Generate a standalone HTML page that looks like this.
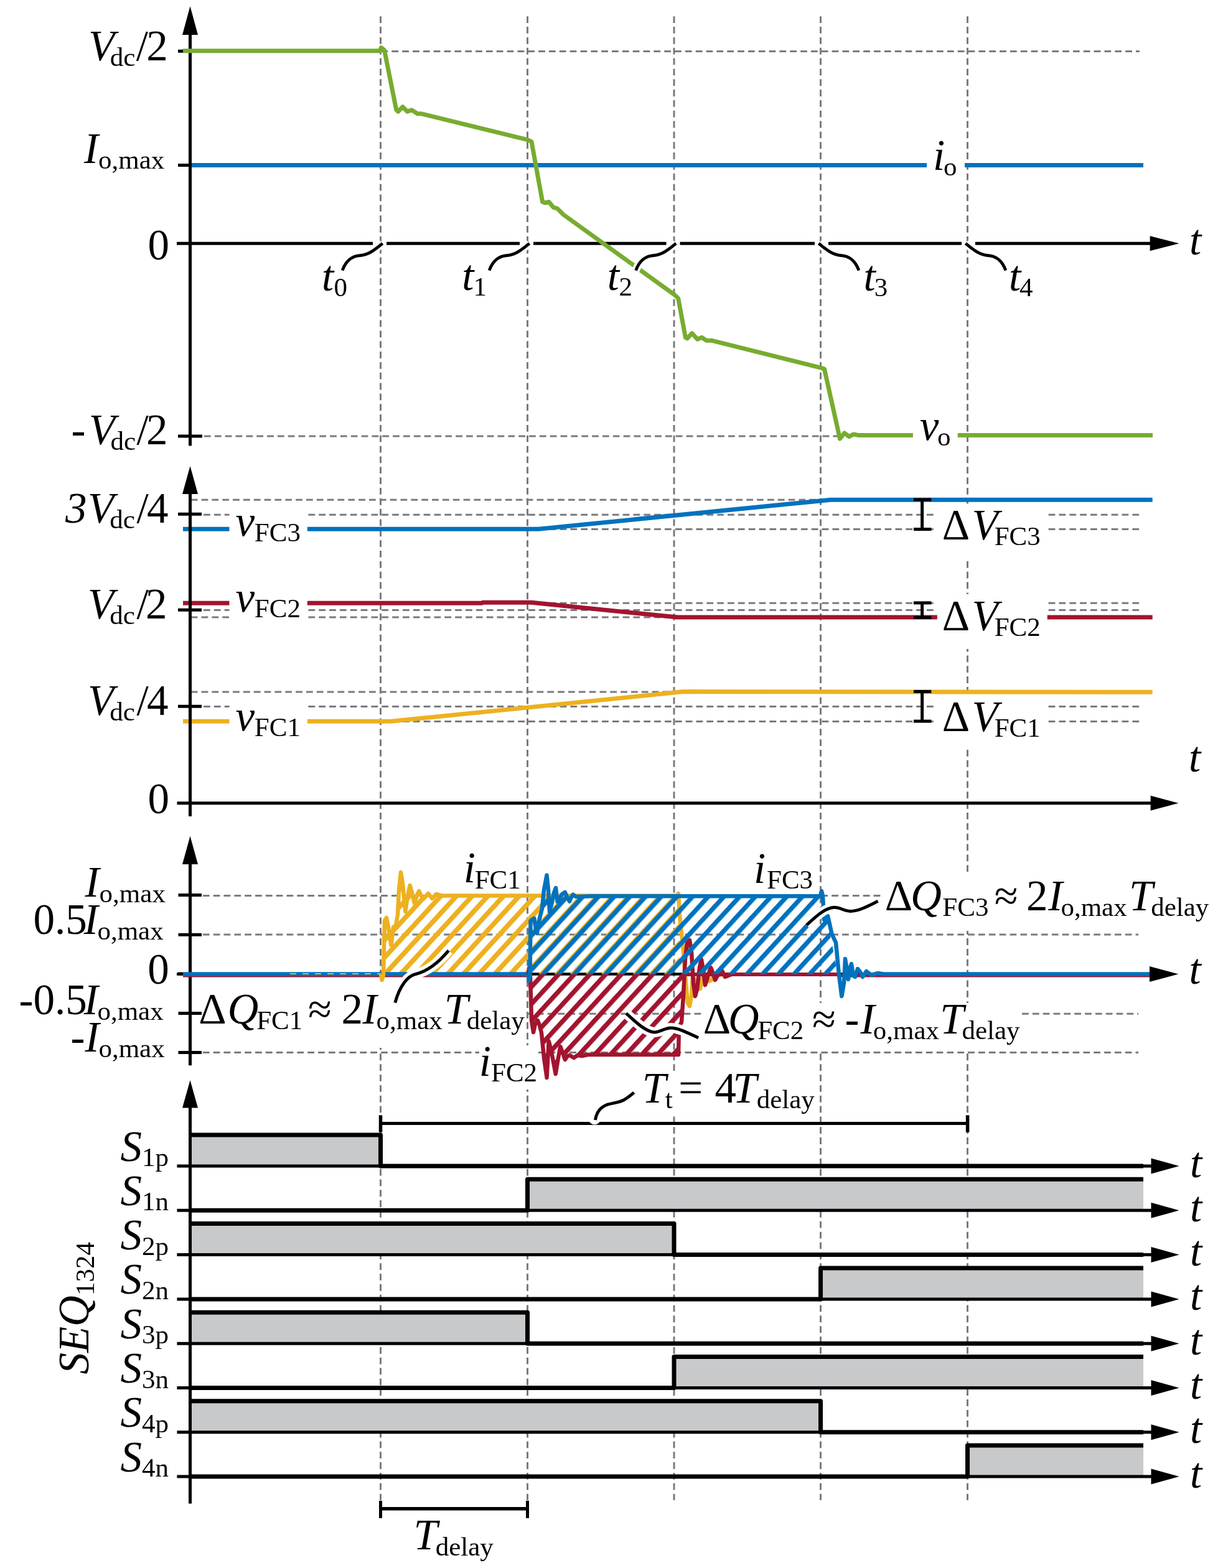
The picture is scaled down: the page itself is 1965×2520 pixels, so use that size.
<!DOCTYPE html>
<html><head><meta charset="utf-8"><title>Switching sequence</title><style>html,body{margin:0;padding:0;background:#fff;overflow:hidden;}svg{display:block;}</style></head><body>
<svg width="1965" height="2520" viewBox="0 0 1965 2520" font-family="'Liberation Serif', 'Times New Roman', serif" fill="#000">
<defs><pattern id="hy" patternUnits="userSpaceOnUse" width="18.579" height="40" patternTransform="rotate(42.50) translate(4.80,0)"><rect x="0" y="0" width="7.80" height="40" fill="#EDB120"/></pattern><pattern id="hr" patternUnits="userSpaceOnUse" width="18.579" height="40" patternTransform="rotate(42.50) translate(6.57,0)"><rect x="0" y="0" width="7.50" height="40" fill="#A2142F"/></pattern><pattern id="hb" patternUnits="userSpaceOnUse" width="18.579" height="40" patternTransform="rotate(42.50) translate(6.62,0)"><rect x="0" y="0" width="7.40" height="40" fill="#0072BD"/></pattern></defs>
<rect x="0" y="0" width="1965" height="2520" fill="#fff"/>
<line x1="611.5" y1="26.2" x2="611.5" y2="2411.0" stroke="#7a7b80" stroke-width="3.0" stroke-dasharray="10.8 6.04"/>
<line x1="847.5" y1="26.2" x2="847.5" y2="2411.0" stroke="#7a7b80" stroke-width="3.0" stroke-dasharray="10.8 6.04"/>
<line x1="1083.0" y1="26.2" x2="1083.0" y2="2411.0" stroke="#7a7b80" stroke-width="3.0" stroke-dasharray="10.8 6.04"/>
<line x1="1318.5" y1="26.2" x2="1318.5" y2="2411.0" stroke="#7a7b80" stroke-width="3.0" stroke-dasharray="10.8 6.04"/>
<line x1="1554.5" y1="26.2" x2="1554.5" y2="2411.0" stroke="#7a7b80" stroke-width="3.0" stroke-dasharray="10.8 6.04"/>
<line x1="612.5" y1="82.5" x2="1831.0" y2="82.5" stroke="#7a7b80" stroke-width="3.0" stroke-dasharray="10.8 6.04"/>
<line x1="328.0" y1="701.1" x2="1350.0" y2="701.1" stroke="#7a7b80" stroke-width="3.0" stroke-dasharray="10.8 6.04"/>
<line x1="305.0" y1="265.5" x2="1489.0" y2="265.5" stroke="#0072BD" stroke-width="7.0" />
<line x1="1550.0" y1="265.5" x2="1837.0" y2="265.5" stroke="#0072BD" stroke-width="7.0" />
<line x1="305.5" y1="52.0" x2="305.5" y2="716.4" stroke="#000" stroke-width="5.0" />
<polygon points="305.5,10.0 293.0,56.0 318.0,56.0" fill="#000"/>
<line x1="284.0" y1="391.2" x2="599.0" y2="391.2" stroke="#000" stroke-width="5.0" />
<line x1="621.0" y1="391.2" x2="835.0" y2="391.2" stroke="#000" stroke-width="5.0" />
<line x1="857.0" y1="391.2" x2="1070.5" y2="391.2" stroke="#000" stroke-width="5.0" />
<line x1="1092.5" y1="391.2" x2="1309.0" y2="391.2" stroke="#000" stroke-width="5.0" />
<line x1="1331.0" y1="391.2" x2="1545.0" y2="391.2" stroke="#000" stroke-width="5.0" />
<line x1="1567.0" y1="391.2" x2="1850.0" y2="391.2" stroke="#000" stroke-width="5.0" />
<polygon points="1894.5,391.2 1847.6,379.2 1847.6,403.2" fill="#000"/>
<line x1="286.0" y1="82.2" x2="305.5" y2="82.2" stroke="#000" stroke-width="5.0" />
<line x1="286.0" y1="265.5" x2="305.5" y2="265.5" stroke="#000" stroke-width="5.0" />
<line x1="286.0" y1="701.1" x2="325.0" y2="701.1" stroke="#000" stroke-width="5.0" />
<polyline points="294.0,81.7 610.5,81.7 612.4,76.5 617.6,80.8 636.7,176.2 639.6,179.2 647.0,171.8 654.3,179.2 661.7,176.8 670.5,182.7 676.3,182.7 847.5,224.7 854.0,227.6 871.6,324.5 876.0,326.0 881.9,324.5 889.2,333.3 895.0,334.8 905.3,345.0 1083.2,473.3 1089.6,479.2 1101.4,542.3 1104.3,543.8 1111.7,535.6 1120.5,545.2 1127.8,542.3 1135.1,547.3 1144.0,547.3 1318.0,590.8 1324.5,593.1 1349.5,705.2 1356.8,695.9 1364.2,701.7 1371.5,697.9 1378.8,699.4 1466.9,699.4" fill="none" stroke="#77AC30" stroke-width="7.0" stroke-linejoin="round" />
<line x1="1538.8" y1="699.4" x2="1852.0" y2="699.4" stroke="#77AC30" stroke-width="7.0" />
<path d="M614.7,391.2 C601.5,402.2 591.5,409.7 579.5,410.5 C566.5,411.2 556.5,417.2 550.1,434.6" fill="none" stroke="#fff" stroke-width="12.5" stroke-linecap="butt"/>
<path d="M614.7,391.2 C601.5,402.2 591.5,409.7 579.5,410.5 C566.5,411.2 556.5,417.2 550.1,434.6" fill="none" stroke="#000" stroke-width="4.8" stroke-linecap="butt"/>
<path d="M850.7,391.2 C837.5,402.2 827.5,409.7 815.5,410.5 C802.5,411.2 792.5,417.2 786.1,434.6" fill="none" stroke="#fff" stroke-width="12.5" stroke-linecap="butt"/>
<path d="M850.7,391.2 C837.5,402.2 827.5,409.7 815.5,410.5 C802.5,411.2 792.5,417.2 786.1,434.6" fill="none" stroke="#000" stroke-width="4.8" stroke-linecap="butt"/>
<path d="M1086.2,391.2 C1073.0,402.2 1063.0,409.7 1051.0,410.5 C1038.0,411.2 1028.0,417.2 1021.6,434.6" fill="none" stroke="#fff" stroke-width="12.5" stroke-linecap="butt"/>
<path d="M1086.2,391.2 C1073.0,402.2 1063.0,409.7 1051.0,410.5 C1038.0,411.2 1028.0,417.2 1021.6,434.6" fill="none" stroke="#000" stroke-width="4.8" stroke-linecap="butt"/>
<path d="M1315.3,391.2 C1328.5,402.2 1338.5,409.7 1350.5,410.5 C1363.5,411.2 1373.5,417.2 1379.9,434.6" fill="none" stroke="#fff" stroke-width="12.5" stroke-linecap="butt"/>
<path d="M1315.3,391.2 C1328.5,402.2 1338.5,409.7 1350.5,410.5 C1363.5,411.2 1373.5,417.2 1379.9,434.6" fill="none" stroke="#000" stroke-width="4.8" stroke-linecap="butt"/>
<path d="M1551.3,391.2 C1564.5,402.2 1574.5,409.7 1586.5,410.5 C1599.5,411.2 1609.5,417.2 1615.9,434.6" fill="none" stroke="#fff" stroke-width="12.5" stroke-linecap="butt"/>
<path d="M1551.3,391.2 C1564.5,402.2 1574.5,409.7 1586.5,410.5 C1599.5,411.2 1609.5,417.2 1615.9,434.6" fill="none" stroke="#000" stroke-width="4.8" stroke-linecap="butt"/>
<text x="141.9" y="96.5" text-anchor="start" ><tspan x="141.9" dy="0.0" font-size="69" font-style="italic">V</tspan><tspan x="176.8" dy="9.0" font-size="43" font-style="normal">dc</tspan><tspan x="218.8" dy="-9.0" font-size="69" font-style="normal">/</tspan><tspan x="235.2" dy="0.0" font-size="69" font-style="normal">2</tspan></text>
<text x="134.9" y="262.0" text-anchor="start" ><tspan x="134.9" dy="0.0" font-size="69" font-style="italic">I</tspan><tspan x="158.0" dy="9.0" font-size="43" font-style="normal">o,max</tspan></text>
<text x="237.5" y="417.0" text-anchor="start" ><tspan dy="0.0" font-size="69" font-style="normal">0</tspan></text>
<text x="114.4" y="713.7" text-anchor="start" ><tspan x="114.4" dy="0.0" font-size="69" font-style="normal">-</tspan><tspan x="142.7" dy="0.0" font-size="69" font-style="italic">V</tspan><tspan x="177.6" dy="9.0" font-size="43" font-style="normal">dc</tspan><tspan x="219.6" dy="-9.0" font-size="69" font-style="normal">/</tspan><tspan x="234.9" dy="0.0" font-size="69" font-style="normal">2</tspan></text>
<text x="1911.0" y="408.6" text-anchor="start" ><tspan dy="0.0" font-size="69" font-style="italic">t</tspan></text>
<text x="517.0" y="466.5" text-anchor="start" ><tspan x="517.0" dy="0.0" font-size="69" font-style="italic">t</tspan><tspan x="536.4" dy="9.0" font-size="43" font-style="normal">0</tspan></text>
<text x="742.3" y="466.0" text-anchor="start" ><tspan x="742.3" dy="0.0" font-size="69" font-style="italic">t</tspan><tspan x="760.4" dy="9.0" font-size="43" font-style="normal">1</tspan></text>
<text x="975.7" y="466.0" text-anchor="start" ><tspan x="975.7" dy="0.0" font-size="69" font-style="italic">t</tspan><tspan x="994.4" dy="9.0" font-size="43" font-style="normal">2</tspan></text>
<text x="1387.6" y="467.0" text-anchor="start" ><tspan x="1387.6" dy="0.0" font-size="69" font-style="italic">t</tspan><tspan x="1404.7" dy="9.0" font-size="43" font-style="normal">3</tspan></text>
<text x="1620.9" y="466.5" text-anchor="start" ><tspan x="1620.9" dy="0.0" font-size="69" font-style="italic">t</tspan><tspan x="1638.0" dy="9.0" font-size="43" font-style="normal">4</tspan></text>
<text x="1499.0" y="272.6" text-anchor="start" ><tspan x="1499.0" dy="0.0" font-size="69" font-style="italic">i</tspan><tspan x="1516.0" dy="9.0" font-size="43" font-style="normal">o</tspan></text>
<text x="1477.7" y="706.7" text-anchor="start" ><tspan x="1477.7" dy="0.0" font-size="69" font-style="italic">v</tspan><tspan x="1506.0" dy="9.0" font-size="43" font-style="normal">o</tspan></text>
<line x1="306.7" y1="803.2" x2="1831.0" y2="803.2" stroke="#7a7b80" stroke-width="3.0" stroke-dasharray="10.8 6.04"/>
<line x1="327.0" y1="827.2" x2="368.5" y2="827.2" stroke="#7a7b80" stroke-width="3.0" stroke-dasharray="10.8 6.04"/>
<line x1="495.4" y1="827.2" x2="1505.0" y2="827.2" stroke="#7a7b80" stroke-width="3.0" stroke-dasharray="10.8 6.04"/>
<line x1="1684.6" y1="827.2" x2="1831.0" y2="827.2" stroke="#7a7b80" stroke-width="3.0" stroke-dasharray="10.8 6.04"/>
<line x1="327.0" y1="980.4" x2="368.5" y2="980.4" stroke="#7a7b80" stroke-width="3.0" stroke-dasharray="10.8 6.04"/>
<line x1="495.4" y1="980.4" x2="1505.0" y2="980.4" stroke="#7a7b80" stroke-width="3.0" stroke-dasharray="10.8 6.04"/>
<line x1="1684.6" y1="980.4" x2="1831.0" y2="980.4" stroke="#7a7b80" stroke-width="3.0" stroke-dasharray="10.8 6.04"/>
<line x1="327.0" y1="1135.5" x2="368.5" y2="1135.5" stroke="#7a7b80" stroke-width="3.0" stroke-dasharray="10.8 6.04"/>
<line x1="495.4" y1="1135.5" x2="1505.0" y2="1135.5" stroke="#7a7b80" stroke-width="3.0" stroke-dasharray="10.8 6.04"/>
<line x1="1684.6" y1="1135.5" x2="1831.0" y2="1135.5" stroke="#7a7b80" stroke-width="3.0" stroke-dasharray="10.8 6.04"/>
<line x1="306.7" y1="850.4" x2="368.5" y2="850.4" stroke="#7a7b80" stroke-width="3.0" stroke-dasharray="10.8 6.04"/>
<line x1="495.4" y1="850.4" x2="1505.0" y2="850.4" stroke="#7a7b80" stroke-width="3.0" stroke-dasharray="10.8 6.04"/>
<line x1="1684.6" y1="850.4" x2="1831.0" y2="850.4" stroke="#7a7b80" stroke-width="3.0" stroke-dasharray="10.8 6.04"/>
<line x1="306.7" y1="969.2" x2="368.5" y2="969.2" stroke="#7a7b80" stroke-width="3.0" stroke-dasharray="10.8 6.04"/>
<line x1="495.4" y1="969.2" x2="1505.0" y2="969.2" stroke="#7a7b80" stroke-width="3.0" stroke-dasharray="10.8 6.04"/>
<line x1="1684.6" y1="969.2" x2="1831.0" y2="969.2" stroke="#7a7b80" stroke-width="3.0" stroke-dasharray="10.8 6.04"/>
<line x1="306.7" y1="992.1" x2="368.5" y2="992.1" stroke="#7a7b80" stroke-width="3.0" stroke-dasharray="10.8 6.04"/>
<line x1="495.4" y1="992.1" x2="1505.0" y2="992.1" stroke="#7a7b80" stroke-width="3.0" stroke-dasharray="10.8 6.04"/>
<line x1="1684.6" y1="992.1" x2="1831.0" y2="992.1" stroke="#7a7b80" stroke-width="3.0" stroke-dasharray="10.8 6.04"/>
<line x1="306.7" y1="1159.5" x2="368.5" y2="1159.5" stroke="#7a7b80" stroke-width="3.0" stroke-dasharray="10.8 6.04"/>
<line x1="495.4" y1="1159.5" x2="1505.0" y2="1159.5" stroke="#7a7b80" stroke-width="3.0" stroke-dasharray="10.8 6.04"/>
<line x1="1684.6" y1="1159.5" x2="1831.0" y2="1159.5" stroke="#7a7b80" stroke-width="3.0" stroke-dasharray="10.8 6.04"/>
<line x1="306.7" y1="1112.0" x2="1831.0" y2="1112.0" stroke="#7a7b80" stroke-width="3.0" stroke-dasharray="10.8 6.04"/>
<rect x="1506" y="809.4" width="178" height="88.0" fill="#fff"/>
<rect x="1506" y="955.0" width="178" height="88.0" fill="#fff"/>
<rect x="1506" y="1116.7" width="178" height="88.0" fill="#fff"/>
<line x1="294.0" y1="850.2" x2="368.5" y2="850.2" stroke="#0072BD" stroke-width="7.0" />
<polyline points="493.8,850.2 865.4,850.2 1335.0,803.2 1851.7,803.2" fill="none" stroke="#0072BD" stroke-width="7.0" stroke-linejoin="round" />
<line x1="294.0" y1="969.3" x2="368.5" y2="969.3" stroke="#A2142F" stroke-width="7.0" />
<polyline points="493.8,969.3 773.8,969.3 776.0,968.3 853.6,968.3 1088.5,992.1 1505.8,992.1" fill="none" stroke="#A2142F" stroke-width="7.0" stroke-linejoin="round" />
<line x1="1682.7" y1="992.1" x2="1851.7" y2="992.1" stroke="#A2142F" stroke-width="7.0" />
<line x1="294.0" y1="1159.3" x2="368.5" y2="1159.3" stroke="#EDB120" stroke-width="7.0" />
<polyline points="493.8,1159.3 628.2,1159.3 1090.8,1112.3 1097.0,1111.6 1851.7,1112.2" fill="none" stroke="#EDB120" stroke-width="7.0" stroke-linejoin="round" />
<line x1="1481.6" y1="803.0" x2="1481.6" y2="850.6" stroke="#000" stroke-width="5.0" />
<line x1="1467.9" y1="803.0" x2="1496.4" y2="803.0" stroke="#000" stroke-width="5.0" />
<line x1="1467.9" y1="850.6" x2="1496.4" y2="850.6" stroke="#000" stroke-width="5.0" />
<line x1="1481.6" y1="968.9" x2="1481.6" y2="992.3" stroke="#000" stroke-width="5.0" />
<line x1="1467.9" y1="968.9" x2="1496.4" y2="968.9" stroke="#000" stroke-width="5.0" />
<line x1="1467.9" y1="992.3" x2="1496.4" y2="992.3" stroke="#000" stroke-width="5.0" />
<line x1="1481.6" y1="1111.4" x2="1481.6" y2="1159.1" stroke="#000" stroke-width="5.0" />
<line x1="1467.9" y1="1111.4" x2="1496.4" y2="1111.4" stroke="#000" stroke-width="5.0" />
<line x1="1467.9" y1="1159.1" x2="1496.4" y2="1159.1" stroke="#000" stroke-width="5.0" />
<line x1="305.5" y1="790.0" x2="305.5" y2="1312.0" stroke="#000" stroke-width="5.0" />
<polygon points="305.5,749.0 293.0,794.0 318.0,794.0" fill="#000"/>
<line x1="284.5" y1="1290.8" x2="1850.0" y2="1290.8" stroke="#000" stroke-width="5.0" />
<polygon points="1893.5,1290.8 1848.6,1278.8 1848.6,1302.8" fill="#000"/>
<line x1="286.0" y1="826.2" x2="324.0" y2="826.2" stroke="#000" stroke-width="5.0" />
<line x1="286.0" y1="980.2" x2="324.0" y2="980.2" stroke="#000" stroke-width="5.0" />
<line x1="286.0" y1="1135.2" x2="324.0" y2="1135.2" stroke="#000" stroke-width="5.0" />
<text x="105.0" y="839.9" text-anchor="start" ><tspan x="105.0" dy="0.0" font-size="69" font-style="italic">3</tspan><tspan x="141.0" dy="0.0" font-size="69" font-style="italic">V</tspan><tspan x="176.3" dy="9.0" font-size="43" font-style="normal">dc</tspan><tspan x="219.5" dy="-9.0" font-size="69" font-style="normal">/</tspan><tspan x="236.0" dy="0.0" font-size="69" font-style="normal">4</tspan></text>
<text x="141.0" y="993.7" text-anchor="start" ><tspan x="141.0" dy="0.0" font-size="69" font-style="italic">V</tspan><tspan x="176.3" dy="9.0" font-size="43" font-style="normal">dc</tspan><tspan x="219.5" dy="-9.0" font-size="69" font-style="normal">/</tspan><tspan x="234.0" dy="0.0" font-size="69" font-style="normal">2</tspan></text>
<text x="141.0" y="1148.8" text-anchor="start" ><tspan x="141.0" dy="0.0" font-size="69" font-style="italic">V</tspan><tspan x="176.3" dy="9.0" font-size="43" font-style="normal">dc</tspan><tspan x="219.5" dy="-9.0" font-size="69" font-style="normal">/</tspan><tspan x="236.0" dy="0.0" font-size="69" font-style="normal">4</tspan></text>
<text x="237.6" y="1307.3" text-anchor="start" ><tspan dy="0.0" font-size="69" font-style="normal">0</tspan></text>
<text x="378.6" y="860.5" text-anchor="start" ><tspan x="378.6" dy="0.0" font-size="69" font-style="italic">v</tspan><tspan x="408.8" dy="9.0" font-size="43" font-style="normal">FC3</tspan></text>
<text x="378.6" y="982.6" text-anchor="start" ><tspan x="378.6" dy="0.0" font-size="69" font-style="italic">v</tspan><tspan x="408.8" dy="9.0" font-size="43" font-style="normal">FC2</tspan></text>
<text x="378.6" y="1174.1" text-anchor="start" ><tspan x="378.6" dy="0.0" font-size="69" font-style="italic">v</tspan><tspan x="408.8" dy="9.0" font-size="43" font-style="normal">FC1</tspan></text>
<text x="1513.7" y="867.4" text-anchor="start" ><tspan x="1513.7" dy="0.0" font-size="69" font-style="normal">Δ</tspan><tspan x="1561.5" dy="0.0" font-size="69" font-style="italic">V</tspan><tspan x="1597.7" dy="9.0" font-size="43" font-style="normal">FC3</tspan></text>
<text x="1513.7" y="1013.0" text-anchor="start" ><tspan x="1513.7" dy="0.0" font-size="69" font-style="normal">Δ</tspan><tspan x="1561.5" dy="0.0" font-size="69" font-style="italic">V</tspan><tspan x="1597.7" dy="9.0" font-size="43" font-style="normal">FC2</tspan></text>
<text x="1513.7" y="1174.7" text-anchor="start" ><tspan x="1513.7" dy="0.0" font-size="69" font-style="normal">Δ</tspan><tspan x="1561.5" dy="0.0" font-size="69" font-style="italic">V</tspan><tspan x="1597.7" dy="9.0" font-size="43" font-style="normal">FC1</tspan></text>
<text x="1910.0" y="1240.3" text-anchor="start" ><tspan dy="0.0" font-size="69" font-style="italic">t</tspan></text>
<line x1="325.8" y1="1439.5" x2="1418.0" y2="1439.5" stroke="#7a7b80" stroke-width="3.0" stroke-dasharray="10.8 6.04"/>
<line x1="325.8" y1="1502.0" x2="1829.0" y2="1502.0" stroke="#7a7b80" stroke-width="3.0" stroke-dasharray="10.8 6.04"/>
<line x1="846.0" y1="1629.2" x2="1130.0" y2="1629.2" stroke="#7a7b80" stroke-width="3.0" stroke-dasharray="10.8 6.04"/>
<line x1="1642.0" y1="1629.2" x2="1829.0" y2="1629.2" stroke="#7a7b80" stroke-width="3.0" stroke-dasharray="10.8 6.04"/>
<line x1="325.8" y1="1691.6" x2="1829.0" y2="1691.6" stroke="#7a7b80" stroke-width="3.0" stroke-dasharray="10.8 6.04"/>
<rect x="319.0" y="1576.0" width="527.0" height="108.0" fill="#fff"/>
<rect x="1128.0" y="1612.0" width="514.0" height="76.0" fill="#fff"/>
<rect x="1418.0" y="1406.0" width="527.0" height="90.0" fill="#fff"/>
<rect x="770.0" y="1680.0" width="95.0" height="71.0" fill="#fff"/>
<rect x="1030.0" y="1722.0" width="282.0" height="68.0" fill="#fff"/>
<line x1="284.0" y1="1565.5" x2="1850.0" y2="1565.5" stroke="#000" stroke-width="4.5" />
<line x1="305.5" y1="1385.0" x2="305.5" y2="1712.2" stroke="#000" stroke-width="5.0" />
<polygon points="305.5,1343.8 293.0,1389.0 318.0,1389.0" fill="#000"/>
<polygon points="615.0,1565.5 617.9,1480.0 621.0,1475.0 624.0,1490.0 628.4,1519.0 632.0,1490.0 636.0,1487.0 639.0,1470.0 641.0,1430.0 644.0,1402.0 647.0,1420.0 651.3,1465.0 655.0,1440.0 658.6,1423.0 662.0,1435.0 666.0,1452.0 670.0,1438.0 673.3,1432.0 677.0,1440.0 681.0,1444.0 688.0,1436.0 694.3,1444.0 700.7,1437.0 710.0,1439.5 1087.0,1439.5 1090.0,1436.0 1091.0,1436.0 1092.0,1565.5" fill="url(#hy)"/>
<line x1="294.0" y1="1568.0" x2="850.0" y2="1568.0" stroke="#A2142F" stroke-width="5.0" />
<line x1="294.0" y1="1565.5" x2="850.0" y2="1565.5" stroke="#0072BD" stroke-width="6.5" />
<line x1="466.0" y1="1565.0" x2="612.0" y2="1565.0" stroke="#EDB120" stroke-width="2.0" stroke-dasharray="10 10"/>
<polyline points="612.0,1565.5 613.7,1575.0 616.0,1567.0 617.9,1480.0 621.0,1475.0 624.0,1490.0 628.4,1519.0 632.0,1490.0 636.0,1487.0 639.0,1470.0 641.0,1430.0 644.0,1402.0 647.0,1420.0 651.3,1465.0 655.0,1440.0 658.6,1423.0 662.0,1435.0 666.0,1452.0 670.0,1438.0 673.3,1432.0 677.0,1440.0 681.0,1444.0 688.0,1436.0 694.3,1444.0 700.7,1437.0 710.0,1439.5 1087.0,1439.5 1090.0,1436.0 1090.0,1436.0 1092.0,1470.0 1095.0,1500.0 1098.0,1530.0 1102.0,1580.0 1105.0,1612.0 1108.0,1617.0 1111.0,1600.0 1113.0,1570.0 1117.0,1575.0 1121.0,1589.0 1125.0,1589.0 1128.0,1575.0 1131.0,1565.0 1135.0,1568.0 1139.0,1577.0 1143.0,1575.0 1147.0,1566.0 1152.0,1568.0 1160.0,1566.0 1170.0,1566.5" fill="none" stroke="#EDB120" stroke-width="6.5" stroke-linejoin="round" />
<polygon points="852.0,1565.5 852.0,1570.0 854.0,1640.0 857.0,1659.0 860.0,1645.0 863.8,1640.0 867.0,1648.0 870.0,1660.0 874.0,1700.0 878.6,1732.0 881.7,1673.0 886.0,1690.0 892.7,1726.0 897.0,1700.0 900.3,1682.0 904.0,1692.0 907.9,1703.0 912.0,1697.0 915.4,1696.0 922.0,1700.0 928.0,1696.0 935.0,1697.0 945.0,1695.0 1090.0,1695.0 1091.0,1650.0 1095.0,1643.0 1103.0,1565.5" fill="url(#hr)"/>
<line x1="1103.0" y1="1566.0" x2="1346.0" y2="1566.0" stroke="#A2142F" stroke-width="6.0" />
<line x1="1346.0" y1="1568.0" x2="1851.0" y2="1568.0" stroke="#A2142F" stroke-width="5.0" />
<polyline points="849.0,1568.0 850.0,1556.0 852.0,1570.0 854.0,1640.0 857.0,1659.0 860.0,1645.0 863.8,1640.0 867.0,1648.0 870.0,1660.0 874.0,1700.0 878.6,1732.0 881.7,1673.0 886.0,1690.0 892.7,1726.0 897.0,1700.0 900.3,1682.0 904.0,1692.0 907.9,1703.0 912.0,1697.0 915.4,1696.0 922.0,1700.0 928.0,1696.0 935.0,1697.0 945.0,1695.0 1090.0,1695.0 1090.0,1695.0 1091.0,1650.0 1095.0,1643.0 1098.0,1600.0 1101.0,1540.0 1104.0,1515.0 1108.0,1511.0 1111.0,1530.0 1114.0,1580.0 1117.0,1601.0 1120.0,1590.0 1124.0,1555.0 1127.0,1542.0 1130.0,1560.0 1133.0,1583.0 1137.0,1570.0 1142.0,1555.0 1146.0,1565.0 1149.0,1575.0 1154.0,1566.0 1160.0,1560.0 1165.0,1570.0 1175.0,1566.0" fill="none" stroke="#A2142F" stroke-width="6.5" stroke-linejoin="round" />
<polygon points="852.0,1565.5 852.5,1480.0 855.0,1478.0 858.3,1476.0 860.5,1490.0 862.9,1500.0 866.0,1480.0 871.0,1460.0 874.0,1430.0 878.5,1406.5 881.0,1430.0 883.0,1465.0 887.0,1450.0 890.0,1435.0 893.0,1427.0 895.5,1449.0 899.0,1445.0 903.0,1437.0 907.8,1434.0 911.0,1441.0 915.0,1448.6 918.0,1442.0 920.6,1437.6 925.0,1441.0 931.6,1441.0 950.0,1440.3 1318.0,1440.3 1320.0,1432.0 1322.0,1440.0 1346.0,1565.5" fill="url(#hb)"/>
<polyline points="849.0,1565.5 849.5,1576.0 851.5,1568.0 852.5,1480.0 855.0,1478.0 858.3,1476.0 860.5,1490.0 862.9,1500.0 866.0,1480.0 871.0,1460.0 874.0,1430.0 878.5,1406.5 881.0,1430.0 883.0,1465.0 887.0,1450.0 890.0,1435.0 893.0,1427.0 895.5,1449.0 899.0,1445.0 903.0,1437.0 907.8,1434.0 911.0,1441.0 915.0,1448.6 918.0,1442.0 920.6,1437.6 925.0,1441.0 931.6,1441.0 950.0,1440.3 1318.0,1440.3 1320.0,1432.0 1322.0,1440.0 1322.0,1440.0 1324.0,1478.0 1330.0,1472.0 1336.5,1501.0 1343.0,1515.0 1348.0,1567.0 1352.4,1601.0 1356.0,1580.0 1358.0,1541.0 1361.0,1560.0 1363.0,1574.0 1366.0,1555.0 1368.0,1549.0 1371.0,1568.0 1374.0,1570.0 1378.0,1557.0 1382.0,1562.0 1386.0,1570.0 1392.0,1561.0 1400.0,1567.0 1410.0,1564.0 1420.0,1565.5" fill="none" stroke="#0072BD" stroke-width="6.5" stroke-linejoin="round" />
<line x1="1420.0" y1="1565.5" x2="1851.0" y2="1565.5" stroke="#0072BD" stroke-width="6.5" />
<polygon points="1893.4,1565.5 1847.0,1553.0 1847.0,1578.0" fill="#000"/>
<line x1="286.5" y1="1438.5" x2="324.0" y2="1438.5" stroke="#000" stroke-width="5.0" />
<line x1="286.5" y1="1502.2" x2="324.0" y2="1502.2" stroke="#000" stroke-width="5.0" />
<line x1="286.5" y1="1628.5" x2="324.0" y2="1628.5" stroke="#000" stroke-width="5.0" />
<line x1="286.5" y1="1691.5" x2="324.0" y2="1691.5" stroke="#000" stroke-width="5.0" />
<line x1="286.0" y1="1565.0" x2="294.0" y2="1565.0" stroke="#000" stroke-width="5.0" />
<path d="M720.8,1527.6 C708,1543 690,1560 668,1565.5 C655,1568 642,1585 634.8,1611.5" fill="none" stroke="#fff" stroke-width="16.0" stroke-linecap="butt"/>
<path d="M720.8,1527.6 C708,1543 690,1560 668,1565.5 C655,1568 642,1585 634.8,1611.5" fill="none" stroke="#000" stroke-width="5.0" stroke-linecap="butt"/>
<path d="M1006.1,1628.7 C1020,1641 1038,1659 1051.9,1659 C1060,1659 1068,1652 1078,1652 C1090,1652 1105,1660 1122.1,1668" fill="none" stroke="#fff" stroke-width="16.0" stroke-linecap="butt"/>
<path d="M1006.1,1628.7 C1020,1641 1038,1659 1051.9,1659 C1060,1659 1068,1652 1078,1652 C1090,1652 1105,1660 1122.1,1668" fill="none" stroke="#000" stroke-width="5.0" stroke-linecap="butt"/>
<path d="M1296.1,1486.5 C1310,1474 1325,1459 1340,1458.3 C1350,1458 1356,1464.4 1366.3,1464.4 C1380,1464.4 1395,1456 1410.6,1448.3" fill="none" stroke="#fff" stroke-width="15.0" stroke-linecap="butt"/>
<path d="M1296.1,1486.5 C1310,1474 1325,1459 1340,1458.3 C1350,1458 1356,1464.4 1366.3,1464.4 C1380,1464.4 1395,1456 1410.6,1448.3" fill="none" stroke="#000" stroke-width="5.0" stroke-linecap="butt"/>
<text x="136.5" y="1441.0" text-anchor="start" ><tspan x="136.5" dy="0.0" font-size="69" font-style="italic">I</tspan><tspan x="159.6" dy="9.0" font-size="43" font-style="normal">o,max</tspan></text>
<text x="53.4" y="1501.1" text-anchor="start" ><tspan x="53.4" dy="0.0" font-size="69" font-style="normal">0.5</tspan><tspan x="134.7" dy="0.0" font-size="69" font-style="italic">I</tspan><tspan x="156.4" dy="9.0" font-size="43" font-style="normal">o,max</tspan></text>
<text x="237.3" y="1581.2" text-anchor="start" ><tspan dy="0.0" font-size="69" font-style="normal">0</tspan></text>
<text x="30.5" y="1630.3" text-anchor="start" ><tspan x="30.5" dy="0.0" font-size="69" font-style="normal">-0.5</tspan><tspan x="134.7" dy="0.0" font-size="69" font-style="italic">I</tspan><tspan x="156.4" dy="9.0" font-size="43" font-style="normal">o,max</tspan></text>
<text x="113.5" y="1690.4" text-anchor="start" ><tspan x="113.5" dy="0.0" font-size="69" font-style="normal">-</tspan><tspan x="136.5" dy="0.0" font-size="69" font-style="italic">I</tspan><tspan x="158.4" dy="9.0" font-size="43" font-style="normal">o,max</tspan></text>
<text x="319.2" y="1644.9" text-anchor="start" ><tspan x="319.2" dy="0.0" font-size="69" font-style="normal">Δ</tspan><tspan x="365.5" dy="0.0" font-size="69" font-style="italic">Q</tspan><tspan x="412.2" dy="9.0" font-size="43" font-style="normal">FC1</tspan><tspan x="495.0" dy="-9.0" font-size="69" font-style="normal">≈</tspan><tspan x="548.5" dy="0.0" font-size="69" font-style="normal">2</tspan><tspan x="582.5" dy="0.0" font-size="69" font-style="italic">I</tspan><tspan x="604.5" dy="9.0" font-size="43" font-style="normal">o,max</tspan><tspan x="713.8" dy="-9.0" font-size="69" font-style="italic">T</tspan><tspan x="749.7" dy="9.0" font-size="43" font-style="normal">delay</tspan></text>
<text x="1129.7" y="1661.0" text-anchor="start" ><tspan x="1129.7" dy="0.0" font-size="69" font-style="normal">Δ</tspan><tspan x="1169.8" dy="0.0" font-size="69" font-style="italic">Q</tspan><tspan x="1217.2" dy="8.5" font-size="43" font-style="normal">FC2</tspan><tspan x="1305.0" dy="-8.5" font-size="69" font-style="normal">≈</tspan><tspan x="1357.5" dy="0.0" font-size="69" font-style="normal">-</tspan><tspan x="1382.6" dy="0.0" font-size="69" font-style="italic">I</tspan><tspan x="1402.7" dy="8.5" font-size="43" font-style="normal">o,max</tspan><tspan x="1510.3" dy="-8.5" font-size="69" font-style="italic">T</tspan><tspan x="1545.5" dy="8.5" font-size="43" font-style="normal">delay</tspan></text>
<text x="1421.8" y="1462.5" text-anchor="start" ><tspan x="1421.8" dy="0.0" font-size="69" font-style="normal">Δ</tspan><tspan x="1463.0" dy="0.0" font-size="69" font-style="italic">Q</tspan><tspan x="1514.3" dy="9.0" font-size="43" font-style="normal">FC3</tspan><tspan x="1597.8" dy="-9.0" font-size="69" font-style="normal">≈</tspan><tspan x="1649.0" dy="0.0" font-size="69" font-style="normal">2</tspan><tspan x="1684.3" dy="0.0" font-size="69" font-style="italic">I</tspan><tspan x="1704.4" dy="9.0" font-size="43" font-style="normal">o,max</tspan><tspan x="1814.0" dy="-9.0" font-size="69" font-style="italic">T</tspan><tspan x="1849.2" dy="9.0" font-size="43" font-style="normal">delay</tspan></text>
<text x="744.7" y="1418.0" text-anchor="start" ><tspan x="744.7" dy="0.0" font-size="69" font-style="italic">i</tspan><tspan x="762.7" dy="10.0" font-size="43" font-style="normal">FC1</tspan></text>
<text x="769.8" y="1729.3" text-anchor="start" ><tspan x="769.8" dy="0.0" font-size="69" font-style="italic">i</tspan><tspan x="789.0" dy="9.0" font-size="43" font-style="normal">FC2</tspan></text>
<text x="1210.9" y="1419.3" text-anchor="start" ><tspan x="1210.9" dy="0.0" font-size="69" font-style="italic">i</tspan><tspan x="1232.0" dy="9.0" font-size="43" font-style="normal">FC3</tspan></text>
<text x="1910.6" y="1581.0" text-anchor="start" ><tspan dy="0.0" font-size="69" font-style="italic">t</tspan></text>
<rect x="305.5" y="1824.0" width="306.0" height="50.0" fill="#c8c9cb"/>
<line x1="284.4" y1="1874.0" x2="1850.0" y2="1874.0" stroke="#000" stroke-width="5.0" />
<polygon points="1894.6,1874.0 1849.5,1861.5 1849.5,1886.5" fill="#000"/>
<polyline points="305.5,1824.0 611.5,1824.0 611.5,1874.0 1837.0,1874.0" fill="none" stroke="#000" stroke-width="7.0" stroke-linejoin="round" stroke-linejoin="miter"/>
<text x="193.5" y="1865.5" text-anchor="start" ><tspan x="193.5" dy="0.0" font-size="69" font-style="italic">S</tspan><tspan x="228.0" dy="8.5" font-size="43" font-style="normal">1p</tspan></text>
<text x="1912.0" y="1891.5" text-anchor="start" ><tspan dy="0.0" font-size="69" font-style="italic">t</tspan></text>
<rect x="847.5" y="1895.3" width="989.5" height="50.0" fill="#c8c9cb"/>
<line x1="284.4" y1="1945.3" x2="1850.0" y2="1945.3" stroke="#000" stroke-width="5.0" />
<polygon points="1894.6,1945.3 1849.5,1932.8 1849.5,1957.8" fill="#000"/>
<polyline points="305.5,1945.3 847.5,1945.3 847.5,1895.3 1837.0,1895.3" fill="none" stroke="#000" stroke-width="7.0" stroke-linejoin="round" stroke-linejoin="miter"/>
<text x="193.5" y="1936.8" text-anchor="start" ><tspan x="193.5" dy="0.0" font-size="69" font-style="italic">S</tspan><tspan x="228.0" dy="8.5" font-size="43" font-style="normal">1n</tspan></text>
<text x="1912.0" y="1962.8" text-anchor="start" ><tspan dy="0.0" font-size="69" font-style="italic">t</tspan></text>
<rect x="305.5" y="1966.6" width="777.5" height="50.0" fill="#c8c9cb"/>
<line x1="284.4" y1="2016.6" x2="1850.0" y2="2016.6" stroke="#000" stroke-width="5.0" />
<polygon points="1894.6,2016.6 1849.5,2004.1 1849.5,2029.1" fill="#000"/>
<polyline points="305.5,1966.6 1083.0,1966.6 1083.0,2016.6 1837.0,2016.6" fill="none" stroke="#000" stroke-width="7.0" stroke-linejoin="round" stroke-linejoin="miter"/>
<text x="193.5" y="2008.1" text-anchor="start" ><tspan x="193.5" dy="0.0" font-size="69" font-style="italic">S</tspan><tspan x="228.0" dy="8.5" font-size="43" font-style="normal">2p</tspan></text>
<text x="1912.0" y="2034.1" text-anchor="start" ><tspan dy="0.0" font-size="69" font-style="italic">t</tspan></text>
<rect x="1318.5" y="2037.9" width="518.5" height="50.0" fill="#c8c9cb"/>
<line x1="284.4" y1="2087.9" x2="1850.0" y2="2087.9" stroke="#000" stroke-width="5.0" />
<polygon points="1894.6,2087.9 1849.5,2075.4 1849.5,2100.4" fill="#000"/>
<polyline points="305.5,2087.9 1318.5,2087.9 1318.5,2037.9 1837.0,2037.9" fill="none" stroke="#000" stroke-width="7.0" stroke-linejoin="round" stroke-linejoin="miter"/>
<text x="193.5" y="2079.4" text-anchor="start" ><tspan x="193.5" dy="0.0" font-size="69" font-style="italic">S</tspan><tspan x="228.0" dy="8.5" font-size="43" font-style="normal">2n</tspan></text>
<text x="1912.0" y="2105.4" text-anchor="start" ><tspan dy="0.0" font-size="69" font-style="italic">t</tspan></text>
<rect x="305.5" y="2109.2" width="542.0" height="50.0" fill="#c8c9cb"/>
<line x1="284.4" y1="2159.2" x2="1850.0" y2="2159.2" stroke="#000" stroke-width="5.0" />
<polygon points="1894.6,2159.2 1849.5,2146.7 1849.5,2171.7" fill="#000"/>
<polyline points="305.5,2109.2 847.5,2109.2 847.5,2159.2 1837.0,2159.2" fill="none" stroke="#000" stroke-width="7.0" stroke-linejoin="round" stroke-linejoin="miter"/>
<text x="193.5" y="2150.7" text-anchor="start" ><tspan x="193.5" dy="0.0" font-size="69" font-style="italic">S</tspan><tspan x="228.0" dy="8.5" font-size="43" font-style="normal">3p</tspan></text>
<text x="1912.0" y="2176.7" text-anchor="start" ><tspan dy="0.0" font-size="69" font-style="italic">t</tspan></text>
<rect x="1083.0" y="2180.5" width="754.0" height="50.0" fill="#c8c9cb"/>
<line x1="284.4" y1="2230.5" x2="1850.0" y2="2230.5" stroke="#000" stroke-width="5.0" />
<polygon points="1894.6,2230.5 1849.5,2218.0 1849.5,2243.0" fill="#000"/>
<polyline points="305.5,2230.5 1083.0,2230.5 1083.0,2180.5 1837.0,2180.5" fill="none" stroke="#000" stroke-width="7.0" stroke-linejoin="round" stroke-linejoin="miter"/>
<text x="193.5" y="2222.0" text-anchor="start" ><tspan x="193.5" dy="0.0" font-size="69" font-style="italic">S</tspan><tspan x="228.0" dy="8.5" font-size="43" font-style="normal">3n</tspan></text>
<text x="1912.0" y="2248.0" text-anchor="start" ><tspan dy="0.0" font-size="69" font-style="italic">t</tspan></text>
<rect x="305.5" y="2251.8" width="1013.0" height="50.0" fill="#c8c9cb"/>
<line x1="284.4" y1="2301.8" x2="1850.0" y2="2301.8" stroke="#000" stroke-width="5.0" />
<polygon points="1894.6,2301.8 1849.5,2289.3 1849.5,2314.3" fill="#000"/>
<polyline points="305.5,2251.8 1318.5,2251.8 1318.5,2301.8 1837.0,2301.8" fill="none" stroke="#000" stroke-width="7.0" stroke-linejoin="round" stroke-linejoin="miter"/>
<text x="193.5" y="2293.3" text-anchor="start" ><tspan x="193.5" dy="0.0" font-size="69" font-style="italic">S</tspan><tspan x="228.0" dy="8.5" font-size="43" font-style="normal">4p</tspan></text>
<text x="1912.0" y="2319.3" text-anchor="start" ><tspan dy="0.0" font-size="69" font-style="italic">t</tspan></text>
<rect x="1554.5" y="2323.1" width="282.5" height="50.0" fill="#c8c9cb"/>
<line x1="284.4" y1="2373.1" x2="1850.0" y2="2373.1" stroke="#000" stroke-width="5.0" />
<polygon points="1894.6,2373.1 1849.5,2360.6 1849.5,2385.6" fill="#000"/>
<polyline points="305.5,2373.1 1554.5,2373.1 1554.5,2323.1 1837.0,2323.1" fill="none" stroke="#000" stroke-width="7.0" stroke-linejoin="round" stroke-linejoin="miter"/>
<text x="193.5" y="2364.6" text-anchor="start" ><tspan x="193.5" dy="0.0" font-size="69" font-style="italic">S</tspan><tspan x="228.0" dy="8.5" font-size="43" font-style="normal">4n</tspan></text>
<text x="1912.0" y="2390.6" text-anchor="start" ><tspan dy="0.0" font-size="69" font-style="italic">t</tspan></text>
<line x1="305.5" y1="1776.0" x2="305.5" y2="2416.5" stroke="#000" stroke-width="5.0" />
<polygon points="305.5,1735.9 293.0,1780.6 318.0,1780.6" fill="#000"/>
<line x1="611.5" y1="1805.5" x2="1554.5" y2="1805.5" stroke="#000" stroke-width="5.0" />
<line x1="611.5" y1="1792.3" x2="611.5" y2="1819.6" stroke="#000" stroke-width="5.5" />
<line x1="1554.6" y1="1792.3" x2="1554.6" y2="1819.6" stroke="#000" stroke-width="5.5" />
<circle cx="955.3" cy="1798" r="9.5" fill="#fff"/>
<path d="M956.4,1800 C958,1790 963,1780 975,1775.5 C985,1772.5 995,1772 1003,1767.5 C1010,1763 1014,1760 1018.7,1755.9" fill="none" stroke="#fff" stroke-width="13.0" stroke-linecap="butt"/>
<path d="M956.4,1800 C958,1790 963,1780 975,1775.5 C985,1772.5 995,1772 1003,1767.5 C1010,1763 1014,1760 1018.7,1755.9" fill="none" stroke="#000" stroke-width="5.0" stroke-linecap="butt"/>
<text x="1031.8" y="1771.6" text-anchor="start" ><tspan x="1031.8" dy="0.0" font-size="69" font-style="italic">T</tspan><tspan x="1068.7" dy="9.0" font-size="43" font-style="normal">t</tspan><tspan x="1090.2" dy="-9.0" font-size="69" font-style="normal">=</tspan><tspan x="1148.6" dy="0.0" font-size="69" font-style="normal">4</tspan><tspan x="1177.4" dy="0.0" font-size="69" font-style="italic">T</tspan><tspan x="1215.7" dy="9.0" font-size="43" font-style="normal">delay</tspan></text>
<line x1="611.5" y1="2424.8" x2="847.5" y2="2424.8" stroke="#000" stroke-width="5.6" />
<line x1="611.5" y1="2411.9" x2="611.5" y2="2439.8" stroke="#000" stroke-width="5.0" />
<line x1="847.5" y1="2411.9" x2="847.5" y2="2439.8" stroke="#000" stroke-width="5.0" />
<text x="664.4" y="2489.7" text-anchor="start" ><tspan x="664.4" dy="0.0" font-size="69" font-style="italic">T</tspan><tspan x="699.7" dy="10.0" font-size="43" font-style="normal">delay</tspan></text>
<g transform="translate(141.5,2208.6) rotate(-90)">
<text x="0.0" y="0.0" text-anchor="start" ><tspan dy="0.0" font-size="69" font-style="italic">SEQ</tspan><tspan dy="9.0" font-size="43" font-style="normal">1324</tspan></text>
</g>
</svg>
</body></html>
